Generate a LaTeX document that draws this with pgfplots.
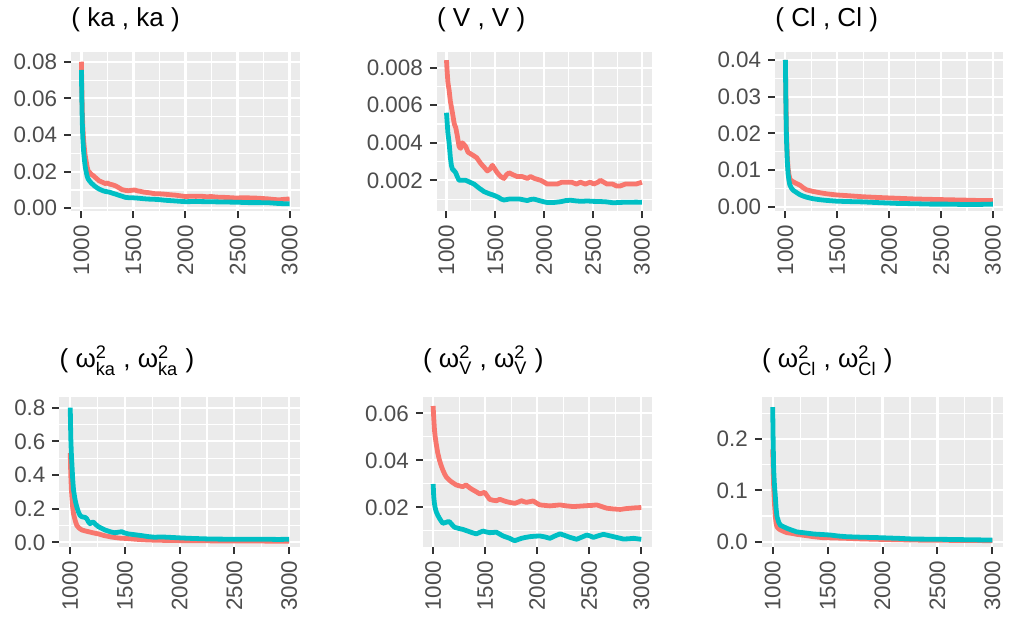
\documentclass[border=0pt]{standalone}
\usepackage{amsmath}
\usepackage{fontspec}
\setmainfont{Liberation Sans}
\usepackage{pgfplots}
\pgfplotsset{compat=1.18}

\definecolor{gred}{HTML}{F8766D}
\definecolor{gcyan}{HTML}{00BFC4}
\definecolor{panelbg}{HTML}{EBEBEB}
\definecolor{gray30}{HTML}{4D4D4D}
\definecolor{gray20}{HTML}{333333}

\newcommand{\om}[1]{$\text{ω}^{\text{2}}_{\text{#1}}$}

\pgfplotsset{
  gg/.style={
    scale only axis,
    anchor=south west,
    xmin=900, xmax=3100,
    scaled ticks=false,
    axis background/.style={fill=panelbg},
    axis line style={draw=none},
    xtick={1000,1500,2000,2500,3000},
    xticklabels={1000,1500,2000,2500,3000},
    minor xtick={1250,1750,2250,2750},
    grid=both,
    major grid style={white, line width=1.1pt},
    minor grid style={white, line width=0.55pt},
    tick align=outside,
    tick pos=left,
    major tick length=3.4pt,
    minor tick length=0pt,
    tick style={gray20, line width=1pt},
    ticklabel style={font=\fontsize{11.2}{13}\selectfont, text=gray30},
    xticklabel style={rotate=90, anchor=east},
    every axis title shift=0pt,
    title style={at={(0,1)}, anchor=base west, inner sep=0pt, font=\fontsize{13}{15}\selectfont},
    every axis plot/.append style={line width=2.4pt, line join=round, no markers},
  },
  toprow/.style={title style={yshift=12.5pt}},
  botrow/.style={title style={yshift=14.7pt}},
}

\begin{document}
\begin{tikzpicture}
\path[use as bounding box] (0,0) rectangle (508.5pt,309.5pt);

% ( ka , ka )
\begin{axis}[gg, toprow, at={(35.5pt,203.75pt)}, width=114.5pt, height=79.9pt,
  ymin=-0.00175, ymax=0.0855,
  ytick={0,0.02,0.04,0.06,0.08}, yticklabels={0.00,0.02,0.04,0.06,0.08},
  minor ytick={0.01,0.03,0.05,0.07},
  title={( ka , ka )}]
\addplot[gred] coordinates {(1000,0.0800)(1004,0.0650)(1008,0.0540)(1013,0.0450)(1020,0.0380)(1028,0.0330)(1036,0.0290)(1045,0.0260)(1055,0.0225)(1065,0.0205)(1080,0.0195)(1095,0.0185)(1110,0.0180)(1130,0.0170)(1150,0.0160)(1170,0.0150)(1190,0.0145)(1210,0.0140)(1230,0.0135)(1250,0.0138)(1270,0.0132)(1300,0.0128)(1330,0.0122)(1360,0.0112)(1390,0.0102)(1420,0.0098)(1450,0.0096)(1480,0.0098)(1510,0.0100)(1540,0.0095)(1570,0.0092)(1600,0.0088)(1650,0.0085)(1700,0.0080)(1750,0.0079)(1800,0.0077)(1850,0.0074)(1900,0.0072)(1950,0.0068)(2000,0.0064)(2050,0.0066)(2100,0.0065)(2150,0.0066)(2200,0.0063)(2250,0.0064)(2300,0.0061)(2350,0.0060)(2400,0.0059)(2450,0.0057)(2500,0.0056)(2550,0.0058)(2600,0.0057)(2650,0.0056)(2700,0.0055)(2750,0.0053)(2800,0.0051)(2850,0.0048)(2900,0.0046)(2950,0.0049)(3000,0.0051)};
\addplot[gcyan] coordinates {(1000,0.0755)(1004,0.0600)(1008,0.0480)(1013,0.0390)(1020,0.0320)(1028,0.0270)(1036,0.0230)(1045,0.0200)(1055,0.0175)(1065,0.0160)(1080,0.0148)(1095,0.0138)(1110,0.0130)(1130,0.0120)(1150,0.0112)(1170,0.0105)(1190,0.0100)(1210,0.0095)(1230,0.0092)(1250,0.0090)(1270,0.0088)(1300,0.0082)(1330,0.0077)(1360,0.0071)(1390,0.0066)(1420,0.0060)(1450,0.0058)(1500,0.0057)(1550,0.0055)(1600,0.0052)(1650,0.0050)(1700,0.0049)(1750,0.0047)(1800,0.0044)(1850,0.0042)(1900,0.0040)(1950,0.0038)(2000,0.0036)(2100,0.0037)(2200,0.0036)(2300,0.0035)(2400,0.0034)(2500,0.0033)(2600,0.0031)(2700,0.0031)(2800,0.0030)(2900,0.0026)(3000,0.0024)};
\end{axis}

% ( V , V )
\begin{axis}[gg, toprow, at={(218.35pt,203.75pt)}, width=107.5pt, height=79.9pt,
  ymin=0.00034, ymax=0.00885,
  ytick={0.002,0.004,0.006,0.008}, yticklabels={0.002,0.004,0.006,0.008},
  minor ytick={0.001,0.003,0.005,0.007},
  title={( V , V )}]
\addplot[gred] coordinates {(1000,0.0084)(1008,0.0077)(1015,0.0072)(1027,0.0068)(1040,0.0062)(1061,0.0056)(1080,0.0050)(1095,0.0048)(1110,0.0044)(1129,0.0038)(1145,0.0037)(1163,0.0040)(1180,0.0039)(1197,0.0038)(1220,0.0035)(1250,0.0034)(1282,0.0033)(1310,0.0032)(1350,0.0029)(1385,0.0027)(1418,0.0025)(1445,0.0026)(1470,0.0028)(1495,0.0026)(1520,0.0024)(1555,0.0022)(1588,0.0021)(1615,0.0023)(1640,0.0024)(1680,0.0023)(1724,0.0022)(1775,0.0022)(1827,0.0021)(1860,0.0022)(1900,0.0021)(1963,0.0020)(2000,0.0019)(2030,0.0018)(2080,0.0018)(2133,0.0018)(2180,0.0019)(2235,0.0019)(2280,0.0019)(2330,0.0018)(2371,0.0019)(2420,0.0018)(2470,0.0019)(2507,0.0018)(2550,0.0019)(2575,0.0020)(2610,0.0019)(2643,0.0018)(2700,0.0018)(2740,0.0017)(2779,0.0017)(2830,0.0018)(2881,0.0018)(2940,0.0018)(3000,0.0019)};
\addplot[gcyan] coordinates {(1000,0.0056)(1008,0.0050)(1015,0.0045)(1027,0.0040)(1040,0.0032)(1050,0.0028)(1061,0.0026)(1080,0.0025)(1095,0.0024)(1110,0.0022)(1129,0.0020)(1160,0.0020)(1197,0.0020)(1240,0.0019)(1282,0.0018)(1330,0.0016)(1384,0.0014)(1430,0.0013)(1486,0.0012)(1530,0.0011)(1560,0.0010)(1588,0.00095)(1640,0.0010)(1690,0.0010)(1750,0.0010)(1800,0.00095)(1827,0.00092)(1860,0.00098)(1895,0.0010)(1950,0.00092)(2000,0.00085)(2030,0.00082)(2100,0.00082)(2167,0.00086)(2220,0.00092)(2269,0.00094)(2330,0.00090)(2380,0.00088)(2439,0.00090)(2500,0.00088)(2575,0.00087)(2640,0.00085)(2711,0.00080)(2760,0.00082)(2820,0.00083)(2881,0.00083)(2940,0.00084)(3000,0.00083)};
\end{axis}

% ( Cl , Cl )
\begin{axis}[gg, toprow, at={(387.5pt,203.75pt)}, width=114.15pt, height=79.9pt,
  ymin=-0.00131, ymax=0.04226,
  ytick={0,0.01,0.02,0.03,0.04}, yticklabels={0.00,0.01,0.02,0.03,0.04},
  minor ytick={0.005,0.015,0.025,0.035},
  title={( Cl , Cl )}]
\addplot[gred] coordinates {(1000,0.0400)(1005,0.0290)(1010,0.0205)(1018,0.0140)(1026,0.0105)(1034,0.0088)(1042,0.0076)(1058,0.0071)(1074,0.0068)(1100,0.0064)(1138,0.0059)(1170,0.0052)(1203,0.0046)(1260,0.0042)(1332,0.0038)(1400,0.0035)(1493,0.0032)(1600,0.0030)(1750,0.0027)(1900,0.0025)(2072,0.0023)(2250,0.0021)(2394,0.0020)(2550,0.0019)(2717,0.0018)(2850,0.0017)(3000,0.0017)};
\addplot[gcyan] coordinates {(1000,0.0400)(1005,0.0280)(1010,0.0190)(1018,0.0125)(1026,0.0090)(1034,0.0072)(1042,0.0060)(1058,0.0051)(1074,0.0045)(1100,0.0040)(1138,0.0033)(1170,0.0029)(1203,0.0026)(1260,0.0022)(1332,0.0019)(1400,0.0017)(1493,0.0015)(1600,0.0014)(1750,0.0013)(1900,0.0011)(2072,0.0009)(2250,0.0008)(2394,0.0007)(2550,0.0007)(2717,0.0006)(2850,0.0006)(3000,0.0007)};
\end{axis}

% ( omega_ka^2 , omega_ka^2 )
\begin{axis}[gg, botrow, at={(29.65pt,36pt)}, width=120.35pt, height=75.15pt,
  ymin=-0.0279, ymax=0.8654,
  ytick={0,0.2,0.4,0.6,0.8}, yticklabels={0.0,0.2,0.4,0.6,0.8},
  minor ytick={0.1,0.3,0.5,0.7},
  title={( \om{ka} , \om{ka} )}]
\addplot[gred] coordinates {(1000,0.53)(1005,0.40)(1010,0.32)(1015,0.27)(1022,0.21)(1030,0.17)(1045,0.13)(1060,0.10)(1080,0.085)(1106,0.073)(1135,0.068)(1166,0.063)(1210,0.056)(1257,0.050)(1310,0.040)(1378,0.031)(1450,0.025)(1530,0.022)(1600,0.018)(1700,0.014)(1800,0.012)(1900,0.011)(2000,0.010)(2200,0.009)(2400,0.008)(2600,0.008)(2800,0.007)(3000,0.006)};
\addplot[gcyan] coordinates {(1000,0.80)(1005,0.62)(1010,0.53)(1015,0.47)(1022,0.38)(1030,0.31)(1045,0.25)(1060,0.21)(1075,0.18)(1090,0.16)(1105,0.152)(1121,0.150)(1136,0.148)(1151,0.140)(1166,0.122)(1181,0.110)(1196,0.118)(1212,0.120)(1235,0.105)(1257,0.093)(1290,0.082)(1318,0.073)(1350,0.066)(1380,0.060)(1408,0.057)(1440,0.060)(1469,0.063)(1500,0.055)(1530,0.050)(1590,0.045)(1650,0.040)(1710,0.034)(1772,0.030)(1830,0.032)(1893,0.030)(1980,0.027)(2074,0.024)(2160,0.022)(2256,0.020)(2350,0.019)(2498,0.018)(2650,0.018)(2800,0.018)(2900,0.017)(3000,0.018)};
\end{axis}

% ( omega_V^2 , omega_V^2 )
\begin{axis}[gg, botrow, at={(211.35pt,36pt)}, width=114.5pt, height=75.15pt,
  ymin=0.00311, ymax=0.06706,
  ytick={0.02,0.04,0.06}, yticklabels={0.02,0.04,0.06},
  minor ytick={0.01,0.03,0.05},
  title={( \om{V} , \om{V} )}]
\addplot[gred] coordinates {(1000,0.0631)(1006,0.0580)(1013,0.0529)(1020,0.0500)(1029,0.0472)(1045,0.0430)(1061,0.0401)(1077,0.0378)(1093,0.0359)(1109,0.0343)(1125,0.0330)(1150,0.0318)(1174,0.0309)(1198,0.0302)(1222,0.0295)(1254,0.0291)(1286,0.0288)(1302,0.0292)(1318,0.0295)(1350,0.0283)(1383,0.0274)(1415,0.0266)(1447,0.0257)(1471,0.0260)(1495,0.0264)(1520,0.0248)(1543,0.0234)(1575,0.0230)(1608,0.0228)(1640,0.0234)(1672,0.0229)(1704,0.0224)(1745,0.0220)(1785,0.0217)(1817,0.0222)(1849,0.0228)(1873,0.0224)(1897,0.0221)(1929,0.0224)(1961,0.0227)(1994,0.0218)(2026,0.0210)(2074,0.0208)(2122,0.0206)(2170,0.0208)(2219,0.0210)(2283,0.0206)(2347,0.0203)(2411,0.0205)(2476,0.0207)(2524,0.0208)(2572,0.0210)(2620,0.0203)(2669,0.0196)(2733,0.0193)(2797,0.0191)(2845,0.0194)(2894,0.0196)(2950,0.0198)(3000,0.0199)};
\addplot[gcyan] coordinates {(1000,0.0299)(1003,0.0275)(1006,0.0245)(1013,0.0215)(1020,0.0198)(1029,0.0182)(1045,0.0166)(1061,0.0153)(1077,0.0142)(1093,0.0132)(1109,0.0134)(1125,0.0136)(1142,0.0139)(1158,0.0138)(1182,0.0126)(1206,0.0115)(1246,0.0110)(1286,0.0106)(1318,0.0101)(1350,0.0096)(1383,0.0091)(1415,0.0087)(1447,0.0093)(1479,0.0099)(1511,0.0095)(1543,0.0092)(1575,0.0093)(1608,0.0094)(1640,0.0086)(1672,0.0078)(1704,0.0073)(1736,0.0068)(1761,0.0062)(1785,0.0058)(1817,0.0063)(1849,0.0068)(1889,0.0072)(1929,0.0075)(1978,0.0077)(2026,0.0078)(2074,0.0074)(2122,0.0068)(2170,0.0078)(2219,0.0087)(2267,0.0080)(2315,0.0072)(2347,0.0068)(2379,0.0064)(2428,0.0073)(2476,0.0082)(2508,0.0078)(2540,0.0072)(2589,0.0079)(2637,0.0085)(2685,0.0080)(2733,0.0075)(2781,0.0070)(2829,0.0065)(2877,0.0066)(2926,0.0068)(2960,0.0066)(3000,0.0064)};
\end{axis}

% ( omega_Cl^2 , omega_Cl^2 )
\begin{axis}[gg, botrow, at={(380.85pt,36pt)}, width=120.8pt, height=75.15pt,
  ymin=-0.0103, ymax=0.2824,
  ytick={0,0.1,0.2}, yticklabels={0.0,0.1,0.2},
  minor ytick={0.05,0.15,0.25},
  title={( \om{Cl} , \om{Cl} )}]
\addplot[gred] coordinates {(1000,0.180)(1005,0.140)(1009,0.107)(1016,0.075)(1024,0.049)(1031,0.036)(1039,0.029)(1055,0.025)(1070,0.023)(1100,0.020)(1130,0.0175)(1180,0.016)(1221,0.0143)(1300,0.012)(1373,0.0097)(1450,0.008)(1524,0.0075)(1676,0.0065)(1800,0.0055)(1979,0.0045)(2150,0.0038)(2282,0.0032)(2500,0.0028)(2750,0.0024)(3000,0.0020)};
\addplot[gcyan] coordinates {(1000,0.262)(1004,0.200)(1009,0.140)(1016,0.110)(1024,0.088)(1031,0.065)(1039,0.049)(1055,0.038)(1070,0.032)(1100,0.029)(1130,0.026)(1180,0.022)(1221,0.019)(1300,0.017)(1373,0.015)(1450,0.014)(1524,0.013)(1600,0.011)(1676,0.0097)(1800,0.0088)(1979,0.0078)(2150,0.0065)(2282,0.0052)(2450,0.0048)(2585,0.0045)(2800,0.0038)(3000,0.0032)};
\end{axis}
\end{tikzpicture}
\end{document}
